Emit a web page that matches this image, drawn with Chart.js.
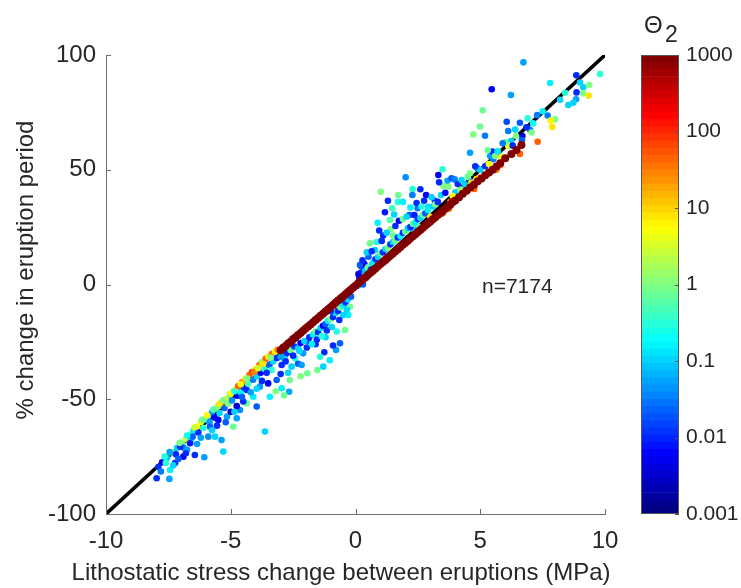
<!DOCTYPE html>
<html lang="en">
<head>
<meta charset="UTF-8" />
<title>Eruption period vs lithostatic stress change</title>
<script src="https://cdn.jsdelivr.net/npm/chart.js"></script>
<style>
  body { margin: 0; background: #fff; }
  #wrap { position: relative; width: 741px; height: 588px; }
  #main { position: absolute; left: 0; top: 0; }
  #cbar { position: absolute; left: 641px; top: 0; }
</style>
</head>
<body>
<div id="wrap">
  <canvas id="main" width="741" height="588"></canvas>
  <canvas id="cbar" width="100" height="588"></canvas>
</div>
<script>
// scattered runs (lithostatic stress change, MPa / % change in period / Theta2)
const stressChange = [
  -7.9,-7.75,-7.55,-7.35,-7.15,-6.95,-6.8,-6.65,-6.5,-6.35,
  -6.2,-6.05,-5.9,-5.75,-5.6,-5.5,-5.35,-5.2,-5.05,-4.9,
  -4.8,-4.7,-4.55,-4.4,-4.25,-4.15,-4.0,-3.85,-3.75,-3.6,
  -3.5,-3.35,-3.22,-3.12,-7.6,-7.2,-6.9,-6.6,-6.3,-6.1,
  -5.85,-5.65,-5.45,-5.25,-5.1,-4.95,-4.75,-4.6,-4.45,-4.3,
  -4.1,-3.95,-3.8,-3.65,-3.45,-3.3,-3.15,-7.97,-7.46,-7.43,
  -7.23,-7.03,-6.9,-6.63,-6.44,-6.06,-6.53,-5.9,-5.63,-5.3,
  -5.37,-5.83,-5.5,-4.9,-5.15,-4.76,-4.63,-4.36,-4.5,-4.76,
  -4.1,-3.96,-3.63,-3.83,-3.43,-3.5,-3.16,-2.96,-3.36,-3.56,
  -3.96,-4.36,-3.2,-6.75,-7.3,-7.8,-6.2,-5.0,-2.63,-2.56,
  -2.96,-2.83,-2.42,-2.86,-2.3,-2.16,-2.7,-1.93,-1.53,-1.29,
  -1.25,-0.78,-0.9,-1.42,-1.03,-0.62,-0.42,-0.29,-1.9,-2.2,
  -3.0,-2.66,-2.86,-2.9,-2.75,-2.6,-2.45,-2.3,-2.2,-2.05,
  -1.85,-1.7,-1.6,-1.5,-1.4,-1.3,-1.2,-1.1,-1.0,-0.9,
  -0.8,-0.7,-0.6,-0.5,-0.4,-0.3,-0.18,-0.22,-0.49,-1.0,
  -2.1,-1.6,-1.2,-0.75,0.1,0.15,0.2,0.24,0.3,0.35,
  0.52,0.68,0.58,0.78,0.89,1.11,1.51,1.41,1.74,1.38,
  1.18,1.47,1.01,1.71,1.7,2.29,2.28,2.83,3.18,3.43,
  3.52,2.49,2.16,2.36,2.92,2.2,2.52,2.35,2.01,3.32,
  3.69,0.4,0.5,0.62,0.7,0.8,0.9,1.0,1.1,1.2,
  1.3,1.4,1.5,1.6,1.7,1.8,1.9,2.0,2.1,2.2,
  2.3,2.4,2.5,2.6,2.7,2.8,2.9,3.0,3.1,3.2,
  3.3,0.3,0.45,3.5,3.75,6.73,5.46,6.23,5.1,4.99,
  4.72,5.19,6.06,6.59,4.59,7.8,8.85,9.8,9.13,9.37,
  9.13,9.34,8.86,8.84,8.73,8.53,6.9,7.12,7.28,7.7,
  8.0,7.82,7.89,7.3,7.0,7.06,6.69,6.67,6.43,6.23,
  6.12,6.59,5.81,5.26,5.52,5.4,5.49,5.6,6.12,4.76,
  4.88,4.59,3.85,3.97,3.49,3.35,3.72,3.6,4.0,4.2,
  4.4,4.6,4.5,4.1,3.9,4.3,4.65,5.0,5.2,5.7,
  6.0,5.35,5.0,5.85,6.3,4.85,3.8,4.5,9.0,
  -7.65,-7.45,-7.05,-6.75,-6.45,-6.15,-5.95,-5.7,-5.45,-5.3,
  -5.0,-4.85,-4.6,-4.35,-4.05,-3.9,-3.7,-3.4,-3.0,-2.8,
  -7.1,-6.8,-6.35,-5.75,-5.55,-5.2,-4.85,-4.55,-4.2,-3.75,
  -2.5,-2.25,-1.95,-1.75,-1.55,-1.35,-1.15,-0.95,-0.65,-0.35,
  0.12,0.18,0.28,0.45,0.65,0.85,1.05,1.25,1.6,1.9,
  2.05,2.45,2.65,2.75,3.05,1.3,1.9,2.6,1.55,0.95,
  4.25,4.8,5.3,5.9,6.4,6.85,7.5,8.2,8.4,5.65
];
const periodChange = [
  -79.5,-77.5,-75.5,-73.2,-71.2,-69.0,-67.2,-65.5,-63.8,-62.0,
  -60.0,-58.8,-57.2,-55.8,-54.0,-53.0,-51.5,-50.0,-48.4,-47.0,
  -45.8,-44.3,-42.6,-41.0,-39.3,-38.2,-36.8,-35.0,-33.8,-32.4,
  -31.5,-30.2,-29.2,-28.4,-77.8,-74.0,-71.0,-67.5,-64.5,-62.5,
  -60.0,-58.0,-56.0,-53.8,-52.0,-50.5,-48.5,-47.0,-45.0,-43.3,
  -41.5,-40.0,-38.5,-36.8,-35.0,-33.5,-32.0,-84.4,-84.7,-80.8,
  -77.8,-70.7,-75.0,-69.2,-74.3,-75.3,-66.3,-66.3,-66.3,-72.8,
  -67.8,-62.0,-59.0,-62.0,-57.5,-58.3,-54.7,-51.8,-51.0,-53.0,
  -48.9,-53.2,-64.1,-44.5,-48.9,-43.1,-41.6,-45.2,-37.3,-38.5,
  -45.4,-46.0,-46.5,-72.0,-78.8,-81.5,-66.8,-55.5,-41.6,-35.8,
  -35.1,-30.7,-32.2,-32.3,-34.5,-35.1,-38.5,-38.7,-37.3,-35.8,
  -29.5,-28.5,-26.6,-31.5,-33.0,-25.6,-19.8,-13.3,-24.5,-40.0,
  -39.0,-46.7,-48.3,-31.0,-29.8,-28.5,-27.0,-27.8,-25.5,-24.6,
  -23.0,-21.8,-20.5,-20.8,-19.0,-18.0,-17.2,-15.8,-15.0,-14.2,
  -12.4,-11.5,-10.0,-9.0,-7.8,-6.5,-5.3,-9.7,-13.3,-11.6,
  -30.0,-26.0,-23.0,-20.5,-0.5,2.5,5.0,7.8,3.8,9.0,
  12.1,8.7,18.0,15.0,26.9,21.3,21.3,24.1,27.8,28.1,
  31.5,33.2,40.4,39.0,36.0,41.6,39.0,39.0,36.5,39.0,
  42.9,33.2,30.3,30.3,33.9,33.5,25.2,24.0,46.7,47.7,
  45.2,6.0,7.5,6.5,9.5,11.0,12.0,13.5,14.0,15.5,
  16.0,17.5,18.5,19.0,20.5,21.0,22.5,23.0,24.5,25.0,
  26.5,27.0,28.5,29.0,30.5,31.0,32.5,29.5,34.0,35.0,
  36.0,0.0,3.0,31.0,33.0,96.8,85.1,82.6,75.9,68.8,
  65.4,64.8,70.9,70.5,57.4,87.8,91.2,91.7,85.9,86.9,
  83.3,82.3,83.7,80.7,79.2,78.2,72.4,70.2,73.8,73.6,
  72.0,71.4,68.6,62.2,67.3,66.2,64.7,62.9,64.7,62.5,
  60.5,56.9,52.0,48.0,54.6,56.0,57.9,56.0,66.9,41.6,
  50.6,48.5,46.3,45.8,50.2,44.5,42.6,40.0,40.2,41.5,
  43.5,45.2,47.0,43.8,38.5,40.2,44.3,50.0,51.5,58.0,
  62.0,52.5,46.5,55.5,60.5,46.0,36.0,41.0,88.0,
  -75.0,-73.0,-69.0,-65.8,-62.3,-59.0,-57.0,-54.5,-52.0,-50.5,
  -47.5,-46.5,-43.5,-41.0,-38.0,-36.5,-34.5,-31.8,-31.5,-33.5,
  -76.0,-73.5,-69.5,-63.5,-61.5,-60.0,-55.5,-49.0,-47.0,-42.0,
  -31.0,-29.0,-27.5,-26.0,-24.0,-22.5,-20.0,-18.5,-15.5,-11.0,
  4.5,8.5,10.5,14.0,14.5,18.5,19.0,22.5,25.5,28.5,
  29.5,35.5,34.0,36.5,38.0,36.5,36.0,41.5,30.5,23.5,
  45.5,51.5,58.5,61.5,67.5,68.5,75.5,80.5,83.5,50.0
];
const theta2 = [
  0.01,0.005,0.08,0.8,0.1,0.8,3,1,0.15,5,
  5,1,0.2,0.04,6,1,40,6,1,30,
  8,50,30,8,40,60,8,40,1,50,
  8,40,6,30,0.3,0.01,0.03,0.1,0.01,0.3,
  0.05,0.005,0.1,0.02,1,0.04,0.005,0.15,0.01,0.5,
  0.03,0.1,0.005,0.3,0.02,0.1,0.01,0.01,0.05,0.15,
  0.01,0.01,0.005,0.008,0.01,0.05,0.02,0.04,0.1,0.1,
  0.05,0.02,0.005,0.8,0.05,0.05,0.04,0.8,0.01,0.003,
  0.15,0.02,0.1,0.05,0.15,0.005,0.02,0.15,0.3,0.01,
  0.1,0.01,1,0.05,0.1,0.03,0.05,0.003,0.8,0.1,
  0.01,0.02,0.3,0.15,0.02,0.05,0.1,0.8,0.8,0.1,
  0.01,0.05,0.01,0.3,0.15,0.02,0.8,0.15,0.01,1,
  0.01,0.05,0.8,0.1,0.01,0.8,0.01,0.1,0.005,0.1,
  0.01,0.15,0.8,0.01,0.1,0.005,0.02,0.15,1,0.01,
  0.1,0.01,0.8,0.15,0.01,0.1,0.02,0.8,0.1,0.01,
  0.05,0.01,0.1,0.3,0.1,0.01,0.01,0.01,0.15,0.005,
  0.02,0.008,0.8,0.1,0.15,0.01,0.8,1,0.005,0.5,
  0.008,0.4,1,0.8,0.3,0.3,0.03,0.005,0.01,0.1,
  1,0.03,0.02,0.008,0.1,0.15,0.8,0.1,0.04,0.005,
  0.05,0.1,0.8,0.01,0.15,0.01,0.1,0.8,0.01,0.1,
  1,0.01,0.1,0.8,0.01,0.15,0.01,0.8,0.1,0.01,
  0.8,0.15,0.01,0.1,0.8,0.02,0.15,8,0.1,1,
  0.01,0.02,0.8,50,30,0.05,0.005,0.05,0.8,0.8,
  1,0.03,0.015,0.02,0.05,0.15,0.01,0.3,0.1,1,
  1,8,0.01,0.05,0.1,0.1,0.3,0.2,0.03,0.03,
  1,6,8,50,0.03,1,0.003,0.02,1,0.1,
  5,50,30,6,0.03,0.05,0.01,1,0.03,50,
  0.03,1,0.02,0.03,0.3,0.01,1,0.005,0.1,1,
  0.1,0.02,0.8,0.01,6,6,8,0.1,0.01,0.15,
  0.8,5,30,6,0.01,8,50,40,0.1,
  0.3,0.05,1,0.2,3,0.8,6,0.5,8,1,
  5,0.3,6,1,30,3,8,1,0.05,0.01,
  0.02,0.01,0.05,0.1,0.01,0.02,0.1,0.02,0.05,0.01,
  0.01,0.1,0.01,0.15,0.01,0.3,0.01,0.1,0.01,0.1,
  0.005,0.02,0.01,0.1,0.01,0.3,0.01,0.1,0.01,0.8,
  0.1,0.01,0.3,0.01,0.1,0.01,0.15,0.01,0.1,0.01,
  0.1,0.01,0.8,0.03,0.1,0.01,0.15,0.1,0.3,30
];

// the dense high-Theta2 (>=1000) streak
const bandStress = [
  -3.0,-2.9,-2.8,-2.7,-2.6,-2.5,-2.4,-2.3,-2.2,-2.1,
  -2.0,-1.9,-1.8,-1.7,-1.6,-1.5,-1.4,-1.3,-1.2,-1.1,
  -1.0,-0.9,-0.8,-0.7,-0.6,-0.5,-0.4,-0.3,-0.2,-0.1,
  0.0,0.1,0.2,0.3,0.4,0.5,0.6,0.7,0.8,0.9,
  1.0,1.1,1.2,1.3,1.4,1.5,1.6,1.7,1.8,1.9,
  2.0,2.1,2.2,2.3,2.4,2.5,2.6,2.7,2.8,2.9,
  3.0,3.1,3.2,3.3,3.4,3.5,3.6,3.7,3.8,3.9,
  4.0,4.15,4.3,4.45,4.6,4.75,4.9,5.05,5.2,5.35,
  5.5,5.65,5.8,6.0,6.25,6.45,6.65
];
const bandPeriod = [
  -28.6,-27.6,-26.8,-25.7,-24.9,-23.8,-23.0,-22.0,-21.1,-20.2,
  -19.2,-18.3,-17.4,-16.4,-15.5,-14.6,-13.6,-12.7,-11.8,-10.8,
  -9.9,-8.9,-8.0,-7.0,-6.1,-5.2,-4.2,-3.3,-2.4,-1.4,
  -0.5,0.4,1.4,2.3,3.2,4.2,5.1,6.0,7.0,7.9,
  8.9,9.8,10.7,11.7,12.6,13.5,14.5,15.4,16.3,17.3,
  18.2,19.1,20.1,21.0,21.9,22.9,23.8,24.7,25.7,26.6,
  27.5,28.4,29.3,30.3,31.2,32.1,33.0,33.9,34.8,35.9,
  36.6,38.0,39.5,40.9,42.3,43.5,45.0,46.2,47.6,48.8,
  50.0,51.4,52.8,55.0,56.9,58.6,60.8
];
const bandTheta = 1000;

// 1:1 reference line
const refLineX = [-10, 10];
const refLineY = [-100, 100];

const xTicks = [-10, -5, 0, 5, 10];
const yTicks = [-100, -50, 0, 50, 100];
const cbarTicks = [0.001, 0.01, 0.1, 1, 10, 100, 1000];
const cbarTickLabels = ['0.001', '0.01', '0.1', '1', '10', '100', '1000'];
const cbarLevels = 64;

const FONT = 'Arial, "Liberation Sans", Helvetica, sans-serif';
const TXT = '#262626';
const AXIS = '#6e6e6e';

// MATLAB jet colormap
function jet(t) {
  const c = v => Math.round(255 * Math.min(1, Math.max(0, v)));
  return `rgb(${c(1.5 - Math.abs(4 * t - 3))},${c(1.5 - Math.abs(4 * t - 2))},${c(1.5 - Math.abs(4 * t - 1))})`;
}
function thetaColor(v) {
  const t = (Math.log10(v) + 3) / 6;
  return jet(Math.min(1, Math.max(0, t)));
}

const scatterPts = stressChange.map((x, i) => ({ x: x, y: periodChange[i] }));
const bandPts = bandStress.map((x, i) => ({ x: x, y: bandPeriod[i] }));
const linePts = refLineX.map((x, i) => ({ x: x, y: refLineY[i] }));

// inward ticks, axis titles and the n= note
const mainDecor = {
  id: 'mainDecor',
  afterDraw(chart) {
    const { ctx, chartArea: a, scales: { x, y } } = chart;
    ctx.save();
    ctx.strokeStyle = AXIS;
    ctx.lineWidth = 1;
    xTicks.forEach(v => {
      const px = Math.round(x.getPixelForValue(v)) + 0.5;
      ctx.beginPath(); ctx.moveTo(px, a.bottom); ctx.lineTo(px, a.bottom - 5); ctx.stroke();
    });
    yTicks.forEach(v => {
      const py = Math.round(y.getPixelForValue(v)) + 0.5;
      ctx.beginPath(); ctx.moveTo(a.left, py); ctx.lineTo(a.left + 5, py); ctx.stroke();
    });

    ctx.fillStyle = TXT;
    ctx.font = '24px ' + FONT;
    ctx.textAlign = 'center';
    ctx.textBaseline = 'middle';
    ctx.fillText('Lithostatic stress change between eruptions (MPa)', 341, 573);

    ctx.save();
    ctx.translate(26, 270);
    ctx.rotate(-Math.PI / 2);
    ctx.fillText('% change in eruption period', 0, 0);
    ctx.restore();

    ctx.font = '21px ' + FONT;
    ctx.textAlign = 'left';
    ctx.fillText('n=7174', x.getPixelForValue(5.07), y.getPixelForValue(-1.1));
    ctx.restore();
  }
};

new Chart(document.getElementById('main'), {
  type: 'scatter',
  data: {
    datasets: [
      {
        type: 'line',
        data: linePts,
        borderColor: '#000',
        borderWidth: 3.5,
        pointRadius: 0,
        order: 3
      },
      {
        data: scatterPts,
        pointRadius: 3.3,
        pointBorderWidth: 0,
        pointBackgroundColor: theta2.map(thetaColor),
        pointBorderColor: 'rgba(0,0,0,0)',
        order: 2
      },
      {
        data: bandPts,
        pointRadius: 4,
        pointBorderWidth: 0,
        pointBackgroundColor: thetaColor(bandTheta),
        pointBorderColor: 'rgba(0,0,0,0)',
        order: 1
      }
    ]
  },
  options: {
    responsive: false,
    animation: false,
    events: [],
    layout: { padding: { top: 55, right: 136, left: 0, bottom: 0 } },
    plugins: { legend: { display: false }, tooltip: { enabled: false } },
    scales: {
      x: {
        type: 'linear', min: -10, max: 10,
        afterBuildTicks: s => { s.ticks = xTicks.map(v => ({ value: v })); },
        afterFit: s => { s.height = 74; },
        grid: { display: false, drawTicks: false },
        border: { display: true, color: AXIS, width: 1 },
        ticks: { font: { family: FONT, size: 24 }, color: TXT, padding: 13, maxRotation: 0, autoSkip: false }
      },
      y: {
        type: 'linear', min: -100, max: 100,
        afterBuildTicks: s => { s.ticks = yTicks.map(v => ({ value: v })); },
        afterFit: s => { s.width = 106; },
        grid: { display: false, drawTicks: false },
        border: { display: true, color: AXIS, width: 1 },
        ticks: { font: { family: FONT, size: 24 }, color: TXT, padding: 10, autoSkip: false }
      }
    }
  },
  plugins: [mainDecor]
});

// colorbar: stacked log-scale segments of the jet map
const cbarSegments = [];
for (let i = 0; i < cbarLevels; i++) {
  const lo = Math.pow(10, -3 + 6 * i / cbarLevels);
  const hi = Math.pow(10, -3 + 6 * (i + 1) / cbarLevels);
  cbarSegments.push({
    data: [[lo, hi]],
    backgroundColor: jet(i / (cbarLevels - 1)),
    borderWidth: 0,
    barPercentage: 1,
    categoryPercentage: 1,
    grouped: false
  });
}

const cbarDecor = {
  id: 'cbarDecor',
  afterDraw(chart) {
    const { ctx, chartArea: a, scales: { y } } = chart;
    ctx.save();
    ctx.strokeStyle = '#555';
    ctx.lineWidth = 1;
    ctx.strokeRect(a.left + 0.5, a.top + 0.5, a.right - a.left - 1, a.bottom - a.top - 1);
    cbarTicks.forEach(v => {
      const py = Math.round(y.getPixelForValue(v)) + 0.5;
      ctx.beginPath(); ctx.moveTo(a.right, py); ctx.lineTo(a.right - 4, py); ctx.stroke();
    });
    ctx.fillStyle = TXT;
    ctx.textBaseline = 'alphabetic';
    ctx.textAlign = 'left';
    ctx.font = '24px ' + FONT;
    ctx.fillText('\u0398', 3, 33);
    ctx.font = '23px ' + FONT;
    ctx.fillText('2', 24, 42);
    ctx.restore();
  }
};

new Chart(document.getElementById('cbar'), {
  type: 'bar',
  data: { labels: [''], datasets: cbarSegments },
  options: {
    responsive: false,
    animation: false,
    events: [],
    layout: { padding: { top: 55, bottom: 74, left: 0, right: 0 } },
    plugins: { legend: { display: false }, tooltip: { enabled: false } },
    scales: {
      x: { display: false },
      y: {
        type: 'logarithmic', position: 'right', min: 0.001, max: 1000,
        afterBuildTicks: s => { s.ticks = cbarTicks.map(v => ({ value: v })); },
        afterFit: s => { s.width = 62; },
        grid: { display: false, drawTicks: false },
        border: { display: false },
        ticks: {
          font: { family: FONT, size: 21 }, color: TXT, padding: 7, autoSkip: false,
          callback: v => cbarTickLabels[cbarTicks.indexOf(v)]
        }
      }
    }
  },
  plugins: [cbarDecor]
});
</script>
</body>
</html>
